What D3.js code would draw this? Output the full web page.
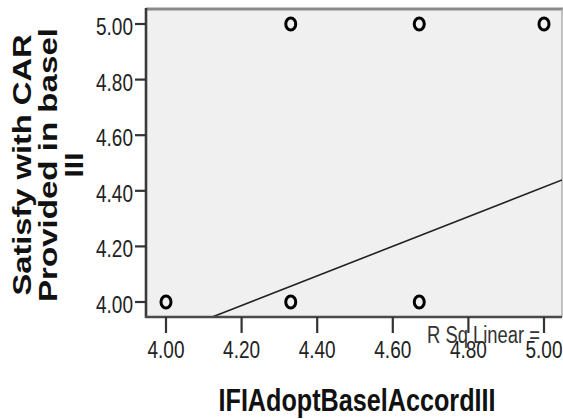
<!DOCTYPE html>
<html>
<head>
<meta charset="utf-8">
<script src="https://cdn.jsdelivr.net/npm/d3@7"></script>
<style>
  html, body { margin: 0; padding: 0; background: #ffffff; }
  svg { display: block; }
  text { font-family: "Liberation Sans", Arial, sans-serif; }
</style>
</head>
<body>
<div id="chart"></div>
<script>
// ---- data ----
const xValues = [4.00, 4.33, 4.67, 4.33, 4.67, 5.00];
const yValues = [4.00, 4.00, 4.00, 5.00, 5.00, 5.00];
const xTicks = [4.00, 4.20, 4.40, 4.60, 4.80, 5.00];
const yTicks = [4.00, 4.20, 4.40, 4.60, 4.80, 5.00];
const fitIntercept = 1.751;
const fitSlope = 0.5325;
const xTitle = "IFIAdoptBaselAccordIII";
const yTitleLines = ["Satisfy with CAR", "Provided in basel", "III"];
const rsqLabel = "R Sq Linear =";

// ---- layout ----
const W = 563, H = 419;
const frame = { left: 146, right: 562, top: 9, bottom: 317 };

const svg = d3.select("#chart").append("svg")
  .attr("width", W).attr("height", H);

const x = d3.scaleLinear().domain([4, 5]).range([166, 544]);
const y = d3.scaleLinear().domain([4, 5]).range([302, 24]);

// plot background
svg.append("rect")
  .attr("x", frame.left).attr("y", frame.top)
  .attr("width", frame.right - frame.left).attr("height", frame.bottom - frame.top)
  .attr("fill", "#f0f0f0");

// top & right borders (light)
svg.append("line").attr("x1", frame.left).attr("x2", frame.right + 1)
  .attr("y1", frame.top).attr("y2", frame.top)
  .attr("stroke", "#8a8a8a").attr("stroke-width", 3);
svg.append("line").attr("x1", frame.right).attr("x2", frame.right)
  .attr("y1", frame.top).attr("y2", frame.bottom)
  .attr("stroke", "#b0b0b0").attr("stroke-width", 1.5);

// clip for fit line
svg.append("clipPath").attr("id", "plotclip").append("rect")
  .attr("x", frame.left).attr("y", frame.top)
  .attr("width", frame.right - frame.left).attr("height", frame.bottom - frame.top);

// regression line
const xd0 = x.invert(frame.left), xd1 = x.invert(frame.right);
const fitPts = [xd0, xd1].map(v => [v, fitIntercept + fitSlope * v]);
svg.append("path")
  .attr("clip-path", "url(#plotclip)")
  .attr("d", d3.line().x(d => x(d[0])).y(d => y(d[1]))(fitPts))
  .attr("fill", "none").attr("stroke", "#222").attr("stroke-width", 1.6);

// points (slightly tall ellipses as in the reference)
svg.append("g").selectAll("ellipse")
  .data(xValues.map((v, i) => [v, yValues[i]]))
  .join("ellipse")
  .attr("cx", d => x(d[0])).attr("cy", d => y(d[1]))
  .attr("rx", 5).attr("ry", 6)
  .attr("fill", "none").attr("stroke", "#000").attr("stroke-width", 3);

// y axis
const yAxis = svg.append("g");
yAxis.append("line").attr("x1", frame.left).attr("x2", frame.left)
  .attr("y1", frame.top - 1).attr("y2", frame.bottom + 1)
  .attr("stroke", "#3a3a3a").attr("stroke-width", 2.6);
const yt = yAxis.selectAll("g.t").data(yTicks).join("g").attr("class", "t");
yt.append("line").attr("x1", frame.left - 11).attr("x2", frame.left)
  .attr("y1", d => y(d)).attr("y2", d => y(d))
  .attr("stroke", "#333").attr("stroke-width", 2.2);
yt.append("text")
  .attr("x", 133).attr("y", d => y(d) + 11)
  .attr("text-anchor", "end")
  .attr("font-size", 23).attr("fill", "#222")
  .attr("textLength", 37).attr("lengthAdjust", "spacingAndGlyphs")
  .text(d => d3.format(".2f")(d));

// x axis
const xAxis = svg.append("g");
xAxis.append("line").attr("x1", frame.left - 1).attr("x2", frame.right)
  .attr("y1", frame.bottom).attr("y2", frame.bottom)
  .attr("stroke", "#4a4a4a").attr("stroke-width", 2.4);
const xt = xAxis.selectAll("g.t").data(xTicks).join("g").attr("class", "t");
xt.append("line").attr("x1", d => x(d)).attr("x2", d => x(d))
  .attr("y1", frame.bottom).attr("y2", frame.bottom + 16)
  .attr("stroke", "#333").attr("stroke-width", 2.2);
xt.append("text")
  .attr("x", d => x(d)).attr("y", 358)
  .attr("text-anchor", "middle")
  .attr("font-size", 23).attr("fill", "#222")
  .attr("textLength", 37).attr("lengthAdjust", "spacingAndGlyphs")
  .text(d => d3.format(".2f")(d));

// R Sq label
svg.append("text")
  .attr("x", 427).attr("y", 343)
  .attr("font-size", 23).attr("fill", "#333")
  .attr("textLength", 113).attr("lengthAdjust", "spacingAndGlyphs")
  .text(rsqLabel);

// x title
svg.append("text")
  .attr("x", 357).attr("y", 411)
  .attr("text-anchor", "middle")
  .attr("font-size", 32).attr("font-weight", "bold").attr("fill", "#111")
  .attr("textLength", 277).attr("lengthAdjust", "spacingAndGlyphs")
  .text(xTitle);

// y title (three rotated lines)
const yTitleBaselines = [31, 57, 83];
const yTitleLengths = [261, 274, 25];
yTitleLines.forEach((t, i) => {
  svg.append("text")
    .attr("transform", `translate(${yTitleBaselines[i]},165) rotate(-90)`)
    .attr("text-anchor", "middle")
    .attr("font-size", 25).attr("font-weight", "bold").attr("fill", "#111")
    .attr("textLength", yTitleLengths[i]).attr("lengthAdjust", "spacingAndGlyphs")
    .text(t);
});
</script>
</body>
</html>
